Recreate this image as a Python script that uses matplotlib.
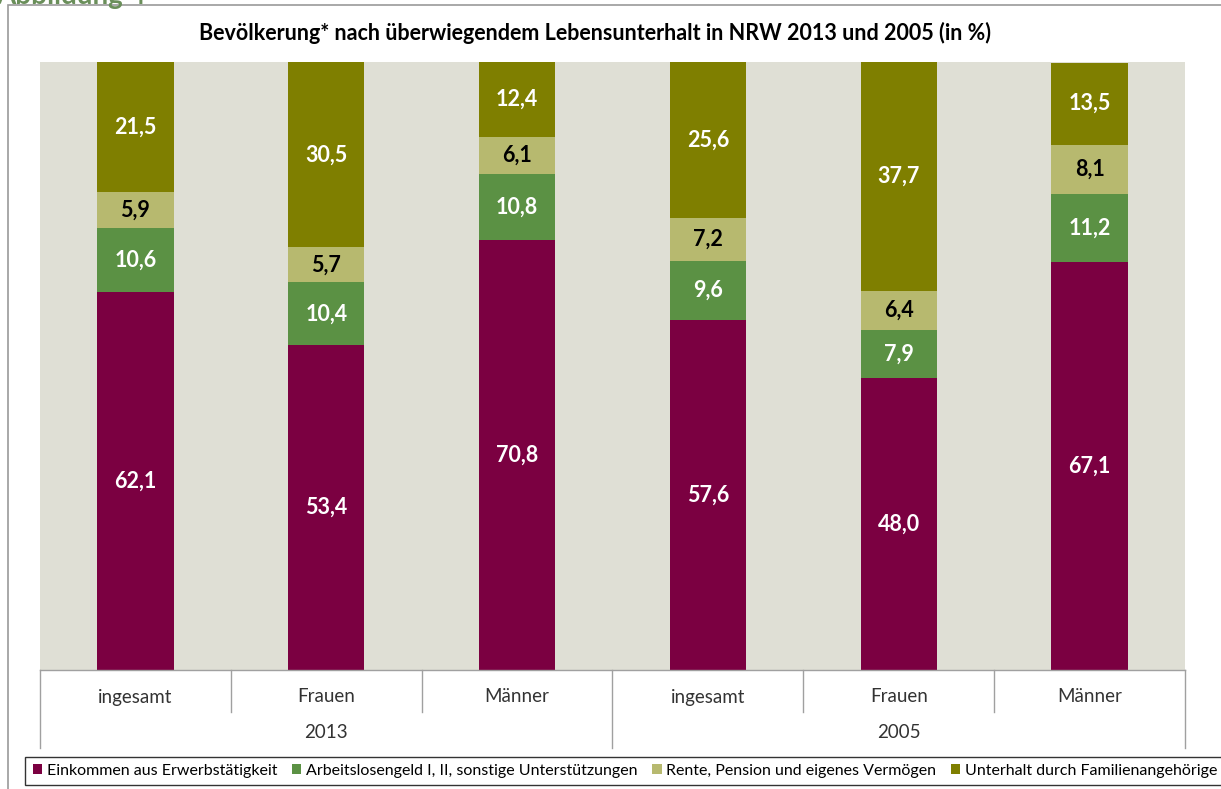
import matplotlib
matplotlib.use("Agg")
import matplotlib.pyplot as plt
from matplotlib.patches import Rectangle, Patch
from matplotlib.lines import Line2D
import numpy as np

plt.rcParams['font.family'] = ['Lato', 'DejaVu Sans']

categories = ["ingesamt", "Frauen", "Männer", "ingesamt", "Frauen", "Männer"]
years = ["2013", "2005"]
series_names = ["Einkommen aus Erwerbstätigkeit",
                "Arbeitslosengeld I, II, sonstige Unterstützungen",
                "Rente, Pension und eigenes Vermögen",
                "Unterhalt durch Familienangehörige"]
einkommen = [62.1, 53.4, 70.8, 57.6, 48.0, 67.1]
arbeitslos = [10.6, 10.4, 10.8, 9.6, 7.9, 11.2]
rente = [5.9, 5.7, 6.1, 7.2, 6.4, 8.1]
unterhalt = [21.5, 30.5, 12.4, 25.6, 37.7, 13.5]
series = [einkommen, arbeitslos, rente, unterhalt]
colors = ["#7B0041", "#5B9144", "#B7B96F", "#7F7F00"]
label_colors = ["white", "white", "black", "white"]

W, H = 1221, 789
fig = plt.figure(figsize=(W / 100, H / 100), dpi=100)

def fx(px):
    return px / W

def fy(py):
    return 1 - py / H

# outer chart border
fig.patches.append(Rectangle((fx(8), fy(820)), fx(1300) - fx(8), fy(5) - fy(820),
                             transform=fig.transFigure, fill=False,
                             edgecolor="#9A9A9A", linewidth=1.2))
fig.text(fx(-4), fy(-4), "Abbildung 4", color="#6A8F5A", fontsize=20,
         fontweight="bold", va="center", ha="left")

left, right, top, bottom = 40, 1185, 62, 670
ax = fig.add_axes([fx(left), fy(bottom), fx(right) - fx(left), fy(top) - fy(bottom)])
ax.set_facecolor("#DFDFD5")
x = np.arange(len(categories))
base = np.zeros(len(categories))
for vals, col, lc in zip(series, colors, label_colors):
    vals = np.array(vals)
    ax.bar(x, vals, bottom=base, width=0.4, color=col, linewidth=0)
    for xi, b, v in zip(x, base, vals):
        ax.text(xi, b + v / 2, f"{v:.1f}".replace(".", ","), ha="center",
                va="center", color=lc, fontsize=15.5, fontweight="bold")
    base += vals

ax.set_xlim(-0.5, len(categories) - 0.5)
ax.set_ylim(0, 100)
ax.set_xticks([])
ax.set_yticks([])
for s in ax.spines.values():
    s.set_visible(False)

# category table
tr = ax.get_xaxis_transform()
r1 = -(712 - 670) / 608
r2 = -(748 - 670) / 608
lc = "#A0A0A0"
ax.add_line(Line2D([-0.5, 5.5], [0, 0], transform=tr, color=lc, lw=1, clip_on=False))
for xb in [-0.5, 2.5, 5.5]:
    ax.add_line(Line2D([xb, xb], [0, r2], transform=tr, color=lc, lw=1, clip_on=False))
for xb in [0.5, 1.5, 3.5, 4.5]:
    ax.add_line(Line2D([xb, xb], [0, r1], transform=tr, color=lc, lw=1, clip_on=False))
for xi, c in zip(x, categories):
    ax.text(xi, -(697 - 670) / 608, c, transform=tr, ha="center", va="center",
            fontsize=13.5, color="#333333")
for i, yr in enumerate(years):
    ax.text(1 + 3 * i, -(733 - 670) / 608, yr, transform=tr, ha="center",
            va="center", fontsize=13.5, color="#333333")

fig.text(fx(595), fy(33), "Bevölkerung* nach überwiegendem Lebensunterhalt in NRW 2013 und 2005 (in %)",
         ha="center", va="center", fontsize=15.5, fontweight="bold", color="black")

handles = [Patch(facecolor=c, edgecolor="none") for c in colors]
leg = fig.legend(handles, series_names, loc="center", ncol=4,
                 bbox_to_anchor=(fx(625), fy(771)), fontsize=11.5,
                 frameon=True, fancybox=False, edgecolor="black",
                 handlelength=0.6, handleheight=0.6, handletextpad=0.3,
                 columnspacing=0.9, borderpad=0.45, labelcolor="black")
leg.get_frame().set_linewidth(1.0)

fig.savefig("out.png", dpi=100, facecolor="white")
